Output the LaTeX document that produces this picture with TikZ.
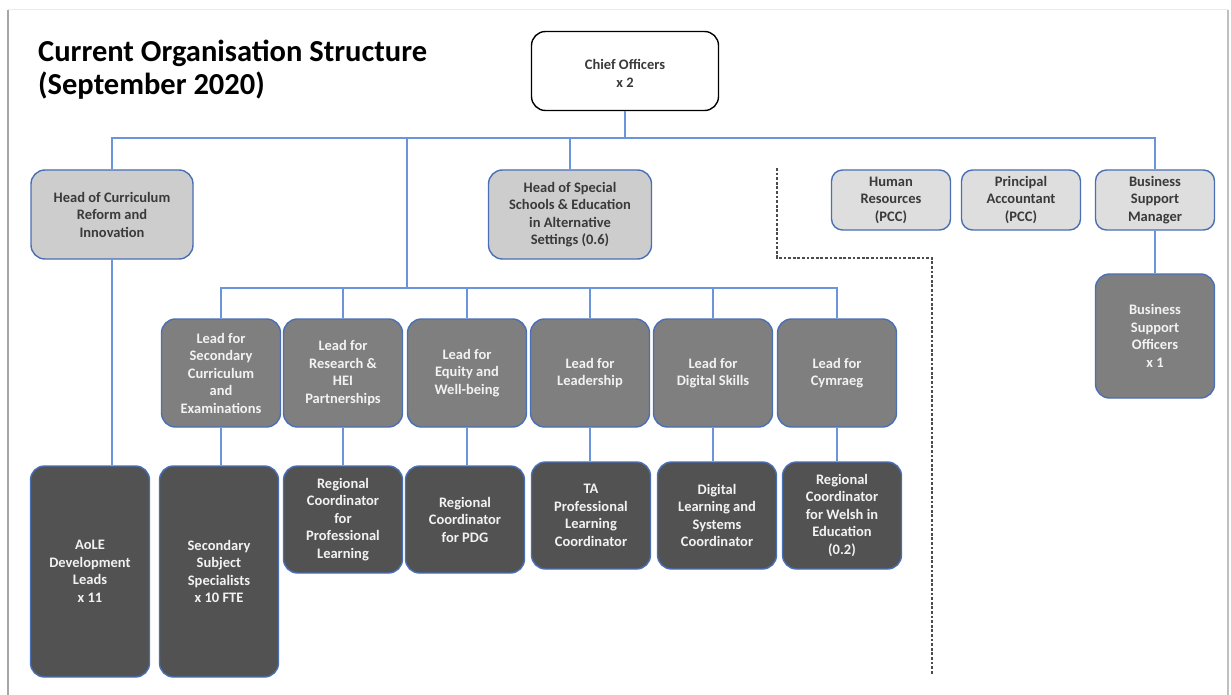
\documentclass[tikz,border=0pt]{standalone}
\usepackage{fontspec}
\setmainfont{Carlito}
\definecolor{bordblue}{HTML}{4A6FB5}
\definecolor{connblue}{HTML}{6A95DA}
\definecolor{headgray}{HTML}{CDCDCD}
\definecolor{sidegray}{HTML}{DEDEDE}
\definecolor{leadgray}{HTML}{7F7F7F}
\definecolor{staffgray}{HTML}{525252}
\definecolor{txtdark}{HTML}{3A3A3A}
\definecolor{txtlight}{HTML}{F2F2F2}
\tikzset{
  orgbox/.style={rectangle, rounded corners=14pt, draw=bordblue, line width=1.4pt,
    align=center, inner sep=2pt, font=\fontsize{14.5}{17.5}\selectfont\bfseries},
  chiefbox/.style={orgbox, fill=white, draw=black, text=txtdark,
    minimum width=187pt, minimum height=79pt},
  headbox/.style={orgbox, fill=headgray, text=txtdark, minimum height=89pt},
  sidebox/.style={orgbox, fill=sidegray, text=txtdark, rounded corners=11pt,
    minimum width=119pt, minimum height=60pt},
  leadbox/.style={orgbox, fill=leadgray, text=txtlight,
    minimum width=119pt, minimum height=108pt},
  staffbox/.style={orgbox, fill=staffgray, text=txtlight, minimum width=119pt},
  conn/.style={draw=connblue, line width=1.4pt},
  divider/.style={draw=black!70, line width=1.8pt, dash pattern=on 2.8pt off 1.8pt},
  titletext/.style={anchor=base west, inner sep=0pt, text=black,
    font=\fontsize{30.5}{33}\selectfont\bfseries}
}
\begin{document}
\begin{tikzpicture}[x=1pt, y=-1pt]
\useasboundingbox (0,0) rectangle (1231,695);
\fill[white] (0,0) rectangle (1231,695);

% page edges
\draw[black!8, line width=1pt] (8,10) -- (1228,10);
\draw[black!35, line width=2pt] (8,10) -- (8,695);
\draw[black!25, line width=1.5pt] (1228,10) -- (1228,695);

% title
\node[titletext] (title1) at (38,62) {Current Organisation Structure};
\node[titletext] (title2) at (38,95) {(September 2020)};

% top level (strut on first line lowers the text a little)
\node[chiefbox] (chief) at (625,71) {\rule{0pt}{15pt}Chief Officers\\x 2};

% heads
\node[headbox, minimum width=162pt] (hcur) at (112,214.5) {Head of Curriculum\\Reform and\\Innovation};
\node[headbox, minimum width=163pt] (hspec) at (570,214.5) {Head of Special\\Schools \& Education\\in Alternative\\Settings (0.6)};

% corporate support
\node[sidebox] (hr) at (891,200) {Human\\Resources\\(PCC)};
\node[sidebox] (pa) at (1021,200) {Principal\\Accountant\\(PCC)};
\node[sidebox] (bsm) at (1155,200) {Business\\Support\\Manager};
\node[leadbox, minimum height=124pt] (bso) at (1155,336) {Business\\Support\\Officers\\x 1};

% leads
\node[leadbox] (lsec) at (221,373) {Lead for\\Secondary\\Curriculum\\and\\Examinations};
\node[leadbox] (lres) at (343,373) {Lead for\\Research \&\\HEI\\Partnerships};
\node[leadbox] (lequ) at (467,373) {Lead for\\Equity and\\Well-being};
\node[leadbox] (llea) at (590,373) {Lead for\\Leadership};
\node[leadbox] (ldig) at (713,373) {Lead for\\Digital Skills};
\node[leadbox] (lcym) at (837,373) {Lead for\\Cymraeg};

% staff
\node[staffbox, minimum height=211pt] (aole) at (90,571.5) {AoLE\\Development\\Leads\\x 11};
\node[staffbox, minimum height=211pt] (sss) at (219,571.5) {Secondary\\Subject\\Specialists\\x 10 FTE};
\node[staffbox, minimum height=107pt] (rcpl) at (343,519.5) {Regional\\Coordinator\\for\\Professional\\Learning};
\node[staffbox, minimum height=107pt] (rcpdg) at (465,519.5) {Regional\\Coordinator\\for PDG};
\node[staffbox, minimum height=107pt] (ta) at (591,515.5) {TA\\Professional\\Learning\\Coordinator};
\node[staffbox, minimum height=107pt] (dls) at (717,515.5) {Digital\\Learning and\\Systems\\Coordinator};
\node[staffbox, minimum height=107pt] (rcw) at (842,515.5) {Regional\\Coordinator\\for Welsh in\\Education\\(0.2)};

% bus levels
\coordinate (bustop) at (0,138);
\coordinate (buslead) at (0,288);
\coordinate (leadjoin) at (407,138);

% connectors: chief officers to heads and support
\draw[conn] (chief.south) -- (chief.south |- bustop);
\draw[conn] (hcur.north) -- (hcur.north |- bustop) -| (bsm.north);
\draw[conn] (hspec.north) -- (hspec.north |- bustop);
\draw[conn] (leadjoin) -- (leadjoin |- buslead);
\draw[conn] (bsm.south) -- (bso.north);

% connectors: lead bus
\draw[conn] (lsec.north) -- (lsec.north |- buslead) -| (lcym.north);
\foreach \n in {lres,lequ,llea,ldig}
  \draw[conn] (\n.north) -- (\n.north |- buslead);

% connectors: leads to staff
\draw[conn] (hcur.south) -- (hcur.south |- aole.north);
\draw[conn] (lsec.south) -- (lsec.south |- sss.north);
\draw[conn] (lres.south) -- (lres.south |- rcpl.north);
\draw[conn] (lequ.south) -- (lequ.south |- rcpdg.north);
\draw[conn] (llea.south) -- (llea.south |- ta.north);
\draw[conn] (ldig.south) -- (ldig.south |- dls.north);
\draw[conn] (lcym.south) -- (lcym.south |- rcw.north);

% dotted divider between teaching and corporate support
\coordinate (d1) at (777,168);
\coordinate (d2) at (777,258);
\coordinate (d3) at (932,258);
\coordinate (d4) at (932,675);
\draw[divider] (d1) -- (d2) -- (d3) -- (d4);
\end{tikzpicture}
\end{document}
